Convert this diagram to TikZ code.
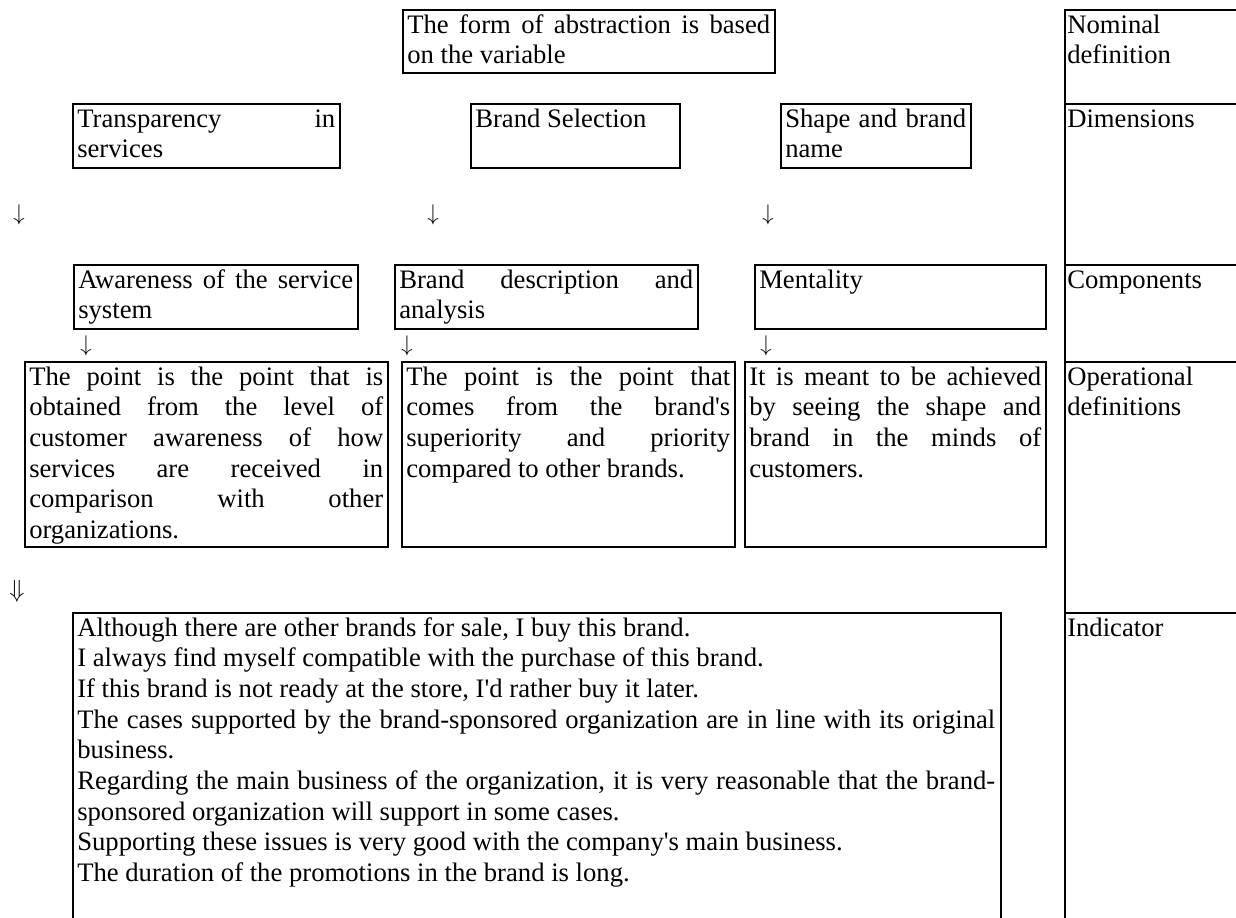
\RequirePackage{fix-cm}
\documentclass[tikz,border=0pt]{standalone}
\usepackage{fontspec}
\newfontfamily\tnr{Liberation Serif}
\usetikzlibrary{fit}
\setlength\parindent{0pt}
\tolerance=10000
\hbadness=10000
\hyphenpenalty=10000
% first-line strut: puts the first baseline a fixed distance below a cell's top edge
\newcommand\topstrut{\rule{0pt}{17.8pt}}

\tikzset{
  cellframe/.style={draw, line width=1.5pt, inner sep=0pt},
  celltext/.style={inner sep=0pt, anchor=north west, align=justify,
                   font=\tnr\fontsize{20pt}{23pt}\selectfont},
  coltext/.style={inner sep=0pt, anchor=north west, align=left,
                  font=\tnr\fontsize{20pt}{23pt}\selectfont},
  arrowglyph/.style={inner sep=0pt, font=\fontsize{17pt}{19pt}\selectfont},
  dblglyph/.style={inner sep=0pt, font=\fontsize{18.6pt}{21pt}\selectfont}
}

\begin{document}
\begin{tikzpicture}[x=0.75pt, y=-0.75pt]
\useasboundingbox (0,0) rectangle (1236,918);
\clip (0,0) rectangle (1236,918);
\fill[white] (0,0) rectangle (1236,918);

% ---- right-hand column of level names
\node[cellframe, fit={(1065,10) (1250,104)}]  (nom)  {};
\node[cellframe, fit={(1065,104) (1250,265)}] (dim)  {};
\node[cellframe, fit={(1065,265) (1250,362)}] (comp) {};
\node[cellframe, fit={(1065,362) (1250,613)}] (oper) {};
\node[cellframe, fit={(1065,613) (1250,940)}] (ind)  {};
\node[coltext] (nomtxt)  at ([xshift=2.25pt]nom.north west)  {\topstrut Nominal\\definition};
\node[coltext] (dimtxt)  at ([xshift=2.25pt]dim.north west)  {\topstrut Dimensions};
\node[coltext] (comptxt) at ([xshift=2.25pt]comp.north west) {\topstrut Components};
\node[coltext] (opertxt) at ([xshift=2.25pt]oper.north west) {\topstrut Operational\\definitions};
\node[coltext] (indtxt)  at ([xshift=2.25pt]ind.north west)  {\topstrut Indicator};

% ---- variable
\node[cellframe, fit={(403,10) (775,73)}] (form) {};
\node[celltext, text width=272.25pt] (formtxt) at ([xshift=3.75pt]form.north west)
  {\topstrut The form of abstraction is based\linebreak on the variable};

% ---- dimensions
\node[cellframe, fit={(73,104) (340,168)}] (transp) {};
\node[celltext, text width=193.5pt] (transptxt) at ([xshift=3.75pt]transp.north west)
  {\topstrut Transparency in\linebreak services};
\node[cellframe, fit={(471,104) (680,168)}] (bsel) {};
\node[celltext, text width=150pt] (bseltxt) at ([xshift=3.75pt]bsel.north west)
  {\topstrut Brand Selection};
\node[cellframe, fit={(781,104) (971,168)}] (shape) {};
\node[celltext, text width=135.75pt] (shapetxt) at ([xshift=3.75pt]shape.north west)
  {\topstrut Shape and brand\linebreak name};

% ---- arrows between dimensions and components
\node[arrowglyph] (arrA) at (19,215)  {$\downarrow$};
\node[arrowglyph] (arrB) at (433,215) {$\downarrow$};
\node[arrowglyph] (arrC) at (768,215) {$\downarrow$};

% ---- components
\node[cellframe, fit={(74,265) (358,329)}] (aware) {};
\node[celltext, text width=206.25pt] (awaretxt) at ([xshift=3.75pt]aware.north west)
  {\topstrut Awareness of the service\linebreak system};
\node[cellframe, fit={(395,265) (698,329)}] (bdesc) {};
\node[celltext, text width=220.5pt] (bdesctxt) at ([xshift=3.75pt]bdesc.north west)
  {\topstrut Brand description and\linebreak analysis};
\node[cellframe, fit={(755,265) (1046,329)}] (mental) {};
\node[celltext, text width=211.5pt] (mentaltxt) at ([xshift=3.75pt]mental.north west)
  {\topstrut Mentality};

% ---- arrows between components and operational definitions
\node[arrowglyph] (arrD) at (86,346)  {$\downarrow$};
\node[arrowglyph] (arrE) at (407,346) {$\downarrow$};
\node[arrowglyph] (arrF) at (766,346) {$\downarrow$};

% ---- operational definitions
\node[cellframe, fit={(25,362) (388,547)}] (opA) {};
\node[celltext, text width=265.5pt] (opAtxt) at ([xshift=3.75pt]opA.north west)
  {\topstrut The point is the point that is\linebreak obtained from the level of\linebreak
   customer awareness of how\linebreak services are received in\linebreak
   comparison with other\linebreak organizations.};
\node[cellframe, fit={(402,362) (735,547)}] (opB) {};
\node[celltext, text width=243pt] (opBtxt) at ([xshift=3.75pt]opB.north west)
  {\topstrut The point is the point that\linebreak comes from the brand's\linebreak
   superiority and priority\linebreak compared to other brands.};
\node[cellframe, fit={(745,362) (1046,547)}] (opC) {};
\node[celltext, text width=219pt] (opCtxt) at ([xshift=3.75pt]opC.north west)
  {\topstrut It is meant to be achieved\linebreak by seeing the shape and\linebreak
   brand in the minds of\linebreak customers.};

% ---- indicators
\node[dblglyph] (arrG) at (17,591) {$\Downarrow$};
\node[cellframe, fit={(73,613) (1001,940)}] (indic) {};
\node[celltext, text width=688.5pt] (indictxt) at ([xshift=3.75pt]indic.north west)
  {\topstrut Although there are other brands for sale, I buy this brand.\newline
   I always find myself compatible with the purchase of this brand.\newline
   If this brand is not ready at the store, I'd rather buy it later.\newline
   The cases supported by the brand-sponsored organization are in line with its original\linebreak
   business.\newline
   Regarding the main business of the organization, it is very reasonable that the brand-\linebreak
   sponsored organization will support in some cases.\newline
   Supporting these issues is very good with the company's main business.\newline
   The duration of the promotions in the brand is long.};
\end{tikzpicture}
\end{document}
